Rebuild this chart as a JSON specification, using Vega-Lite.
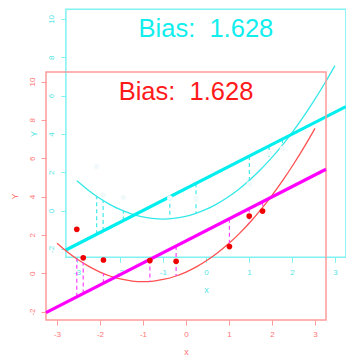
{
  "$schema": "https://vega.github.io/schema/vega-lite/v6.json",
  "width": 346,
  "height": 361,
  "autosize": {"type": "none"},
  "padding": 0,
  "background": "white",
  "config": {
    "view": {"stroke": null},
    "font": "Liberation Sans",
    "axis": {"grid": false, "domain": false, "labelFont": "Liberation Sans", "titleFont": "Liberation Sans", "titleFontWeight": "normal", "labelFlush": false, "labelOverlap": false}
  },
  "datasets": {
    "frame": [{"x": -3.256, "x2": 3.256, "y": -2.44, "y2": 10.5}],
    "pts": [
      {"x": -2.54, "y": 2.29}, {"x": -2.39, "y": 0.80}, {"x": -1.92, "y": 0.69}, {"x": -0.84, "y": 0.66},
      {"x": -0.23, "y": 0.62}, {"x": 1.01, "y": 1.39}, {"x": 1.47, "y": 2.98}, {"x": 1.78, "y": 3.24}
    ],
    "curve": [
      {"x": -3, "y": 1.56}, {"x": -2.75, "y": 1.091}, {"x": -2.5, "y": 0.685}, {"x": -2.25, "y": 0.341},
      {"x": -2, "y": 0.06}, {"x": -1.75, "y": -0.159}, {"x": -1.5, "y": -0.315}, {"x": -1.25, "y": -0.409},
      {"x": -1, "y": -0.44}, {"x": -0.75, "y": -0.409}, {"x": -0.5, "y": -0.315}, {"x": -0.25, "y": -0.159},
      {"x": 0, "y": 0.06}, {"x": 0.25, "y": 0.341}, {"x": 0.5, "y": 0.685}, {"x": 0.75, "y": 1.091},
      {"x": 1, "y": 1.56}, {"x": 1.25, "y": 2.091}, {"x": 1.5, "y": 2.685}, {"x": 1.75, "y": 3.341},
      {"x": 2, "y": 4.06}, {"x": 2.25, "y": 4.841}, {"x": 2.5, "y": 5.685}, {"x": 2.75, "y": 6.591},
      {"x": 3, "y": 7.56}
    ],
    "fit": [{"x": -3.256, "y": -2.055}, {"x": 3.256, "y": 5.425}],
    "segs": [
      {"x": -2.54, "y": -1.233, "y2": 0.746}, {"x": -2.39, "y": -1.06, "y2": 0.56},
      {"x": -1.92, "y": -0.52, "y2": -0.017}, {"x": -0.84, "y": 0.72, "y2": -0.427},
      {"x": -0.23, "y": 1.421, "y2": -0.144}, {"x": 1.01, "y": 2.845, "y2": 1.58},
      {"x": 1.47, "y": 3.374, "y2": 2.61}, {"x": 1.78, "y": 3.73, "y2": 3.424}
    ],
    "bias": [{"x": 0, "y": 9.47, "label": "Bias:\u00a0 1.628"}]
  },
  "layer": [
    {
      "layer": [
        {
          "data": {"name": "frame"},
          "mark": {"type": "rect", "filled": false, "stroke": "#80f2f2", "strokeWidth": 1.5},
          "encoding": {
            "x": {"field": "x", "type": "quantitative", "scale": {"domain": [-4.7884, 3.2581], "nice": false, "zero": false},
              "axis": {"orient": "bottom", "offset": -103.6, "values": [-3, -2, -1, 0, 1, 2, 3], "tickSize": 5, "tickColor": "#80f2f2", "labelColor": "#55e5e5", "labelFontSize": 8, "labelPadding": 6, "labelExpr": "'' + datum.value", "title": "x", "titleColor": "#55e5e5", "titleFontSize": 9, "titlePadding": 9, "titleX": 205.9}},
            "x2": {"field": "x2"},
            "y": {"field": "y", "type": "quantitative", "scale": {"domain": [-7.8456, 10.9859], "nice": false, "zero": false},
              "axis": {"orient": "left", "offset": -65.9, "values": [-2, 0, 2, 4, 6, 8, 10], "tickSize": 5, "tickColor": "#80f2f2", "labelColor": "#55e5e5", "labelFontSize": 8, "labelAngle": 270, "labelAlign": "center", "labelBaseline": "bottom", "labelPadding": 5, "labelExpr": "'' + datum.value", "title": "Y", "titleColor": "#55e5e5", "titleFontSize": 9, "titlePadding": 9, "titleY": 133.4}},
            "y2": {"field": "y2"}
          }
        },
        {
          "data": {"name": "curve"},
          "mark": {"type": "line", "color": "#33e8e8", "strokeWidth": 1.3, "interpolate": "monotone"},
          "encoding": {"x": {"field": "x", "type": "quantitative"}, "y": {"field": "y", "type": "quantitative"}}
        },
        {
          "data": {"name": "segs"},
          "mark": {"type": "rule", "color": "#40eaea", "strokeWidth": 1.2, "strokeDash": [4, 3]},
          "encoding": {"x": {"field": "x", "type": "quantitative"}, "y": {"field": "y", "type": "quantitative"}, "y2": {"field": "y2"}}
        },
        {
          "data": {"name": "fit"},
          "mark": {"type": "line", "color": "#00eeee", "strokeWidth": 3.2},
          "encoding": {"x": {"field": "x", "type": "quantitative"}, "y": {"field": "y", "type": "quantitative"}}
        },
        {
          "data": {"name": "pts"},
          "mark": {"type": "circle", "color": "#f1f9fb", "size": 30, "opacity": 1},
          "encoding": {"x": {"field": "x", "type": "quantitative"}, "y": {"field": "y", "type": "quantitative"}}
        },
        {
          "data": {"name": "bias"},
          "mark": {"type": "text", "color": "#10eeee", "fontSize": 25.5, "align": "center", "baseline": "middle"},
          "encoding": {"x": {"field": "x", "type": "quantitative"}, "y": {"field": "y", "type": "quantitative"}, "text": {"field": "label"}}
        }
      ]
    },
    {
      "layer": [
        {
          "data": {"name": "frame"},
          "mark": {"type": "rect", "filled": false, "stroke": "#ff9a9a", "strokeWidth": 1.5},
          "encoding": {
            "x": {"field": "x", "type": "quantitative", "scale": {"domain": [-4.3256, 3.7209], "nice": false, "zero": false},
              "axis": {"orient": "bottom", "offset": -41.04, "values": [-3, -2, -1, 0, 1, 2, 3], "tickSize": 5, "tickColor": "#ff9a9a", "labelColor": "#ff7474", "labelFontSize": 8, "labelPadding": 6, "labelExpr": "'' + datum.value", "title": "x", "titleColor": "#ff7474", "titleFontSize": 9, "titlePadding": 9, "titleX": 186}},
            "x2": {"field": "x2"},
            "y": {"field": "y", "type": "quantitative", "scale": {"domain": [-4.5813, 14.2552], "nice": false, "zero": false},
              "axis": {"orient": "left", "offset": -46, "values": [-2, 0, 2, 4, 6, 8, 10], "tickSize": 5, "tickColor": "#ff9a9a", "labelColor": "#ff7474", "labelFontSize": 8, "labelAngle": 270, "labelAlign": "center", "labelBaseline": "bottom", "labelPadding": 5, "labelExpr": "'' + datum.value", "title": "Y", "titleColor": "#ff7474", "titleFontSize": 9, "titlePadding": 9, "titleY": 196}},
            "y2": {"field": "y2"}
          }
        },
        {
          "data": {"name": "curve"},
          "mark": {"type": "line", "color": "#ff5050", "strokeWidth": 1.3, "interpolate": "monotone"},
          "encoding": {"x": {"field": "x", "type": "quantitative"}, "y": {"field": "y", "type": "quantitative"}}
        },
        {
          "data": {"name": "segs"},
          "mark": {"type": "rule", "color": "#ff40ff", "strokeWidth": 1.2, "strokeDash": [4, 3]},
          "encoding": {"x": {"field": "x", "type": "quantitative"}, "y": {"field": "y", "type": "quantitative"}, "y2": {"field": "y2"}}
        },
        {
          "data": {"name": "fit"},
          "mark": {"type": "line", "color": "#ff00ff", "strokeWidth": 3.2},
          "encoding": {"x": {"field": "x", "type": "quantitative"}, "y": {"field": "y", "type": "quantitative"}}
        },
        {
          "data": {"name": "pts"},
          "mark": {"type": "circle", "color": "#ee0000", "size": 32, "opacity": 1},
          "encoding": {"x": {"field": "x", "type": "quantitative"}, "y": {"field": "y", "type": "quantitative"}}
        },
        {
          "data": {"name": "bias"},
          "mark": {"type": "text", "color": "#ff1a1a", "fontSize": 25.5, "align": "center", "baseline": "middle"},
          "encoding": {"x": {"field": "x", "type": "quantitative"}, "y": {"field": "y", "type": "quantitative"}, "text": {"field": "label"}}
        }
      ]
    }
  ],
  "resolve": {"scale": {"x": "independent", "y": "independent"}, "axis": {"x": "independent", "y": "independent"}}
}
